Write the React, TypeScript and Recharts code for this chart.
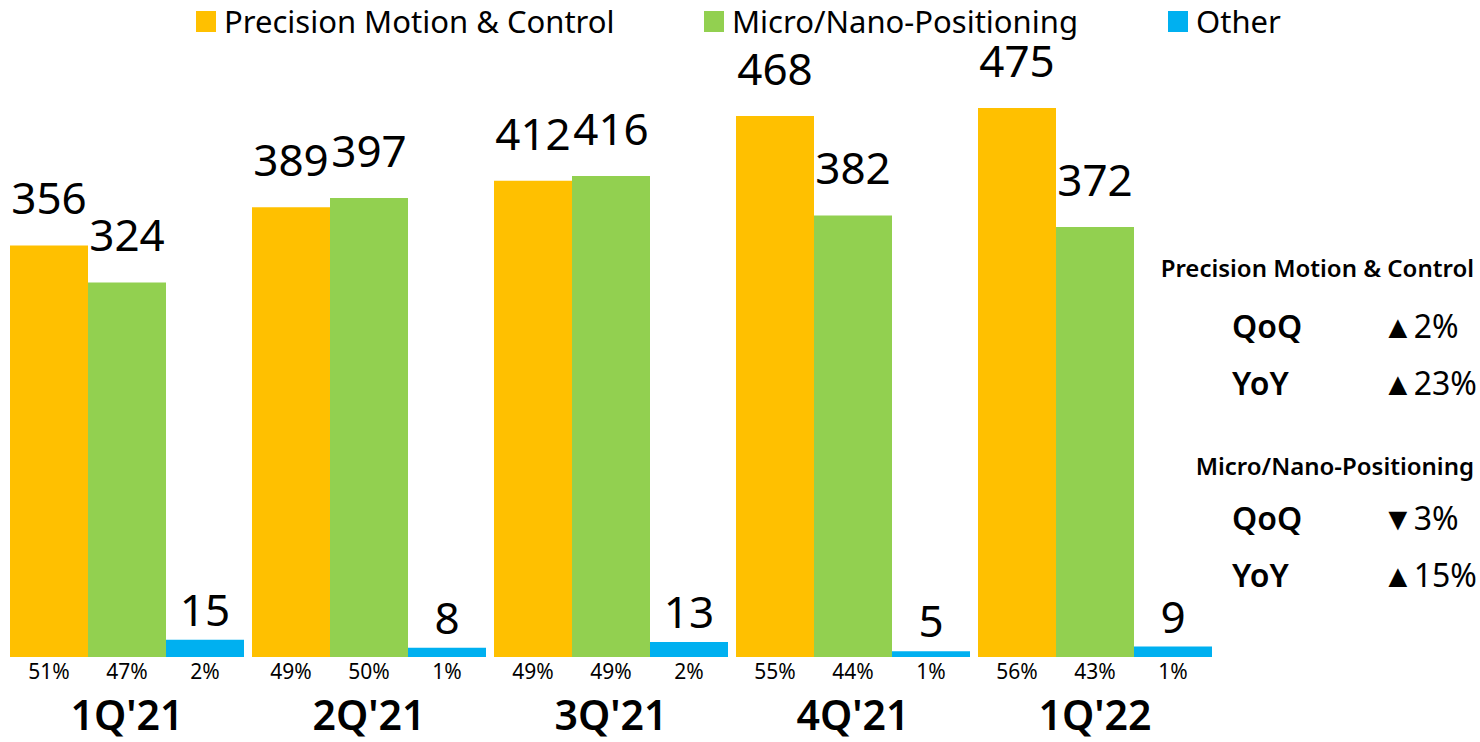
import React from "react";
import { Bar, BarChart, LabelList, Legend, XAxis, YAxis } from "recharts";

const quarters = ["1Q'21", "2Q'21", "3Q'21", "4Q'21", "1Q'22"];
const pmcValues = [356, 389, 412, 468, 475];
const mnpValues = [324, 397, 416, 382, 372];
const otherValues = [15, 8, 13, 5, 9];
const pmcShare = [51, 49, 49, 55, 56];
const mnpShare = [47, 50, 49, 44, 43];
const otherShare = [2, 1, 2, 1, 1];

const series = [
  { key: "pmc", share: "pmcShare", name: "Precision Motion & Control", color: "#FFC000" },
  { key: "mnp", share: "mnpShare", name: "Micro/Nano-Positioning", color: "#92D050" },
  { key: "other", share: "otherShare", name: "Other", color: "#00B0F0" },
];

const data = quarters.map((q, i) => ({
  quarter: q,
  pmc: pmcValues[i],
  mnp: mnpValues[i],
  other: otherValues[i],
  pmcShare: pmcShare[i],
  mnpShare: mnpShare[i],
  otherShare: otherShare[i],
}));

const FONT = "'Noto Sans', sans-serif";

const ShareLabel = (props: any) => {
  const { x, y, width, height, value } = props;
  return (
    <text
      x={x + width / 2}
      y={y + height + 22}
      textAnchor="middle"
      fontSize={21}
      fontFamily={FONT}
      fill="#000"
    >
      {value}%
    </text>
  );
};

const QuarterTick = (props: any) => {
  const { x, y, payload } = props;
  return (
    <text
      x={x}
      y={y + 73}
      textAnchor="middle"
      fontSize={41}
      fontWeight={600}
      fontFamily={FONT}
      fill="#000"
    >
      {payload.value}
    </text>
  );
};

const legendLeft = [196, 704, 1168];

const LegendContent = () => (
  <div style={{ position: "relative", height: 40, fontFamily: FONT }}>
    {series.map((s, i) => (
      <div
        key={s.key}
        style={{
          position: "absolute",
          left: legendLeft[i],
          top: 0,
          display: "flex",
          alignItems: "center",
          height: 42,
        }}
      >
        <span
          style={{
            display: "inline-block",
            width: 20,
            height: 21,
            background: s.color,
            marginRight: 8,
          }}
        />
        <span style={{ fontSize: 31, color: "#000", whiteSpace: "nowrap" }}>
          {s.name}
        </span>
      </div>
    ))}
  </div>
);

const growth = [
  { title: "Precision Motion & Control", titleY: 277, rows: [["QoQ", "▲2%", 338], ["YoY", "▲23%", 395]] },
  { title: "Micro/Nano-Positioning", titleY: 475, rows: [["QoQ", "▼3%", 530], ["YoY", "▲15%", 587]] },
];

export default function App() {
  return (
    <div style={{ position: "absolute", left: 0, top: 0, width: 1480, height: 742 }}>
      <BarChart
        width={1480}
        height={742}
        data={data}
        margin={{ top: 39, right: 264, bottom: 0, left: 6 }}
        barCategoryGap={4}
        barGap={0}
      >
        <Legend
          verticalAlign="top"
          content={<LegendContent />}
          wrapperStyle={{ top: 0, left: 0, width: 1480 }}
        />
        <XAxis
          dataKey="quarter"
          height={85}
          axisLine={false}
          tickLine={false}
          tickSize={0}
          tickMargin={0}
          tick={<QuarterTick />}
          interval={0}
        />
        <YAxis hide domain={[0, 500]} />
        {series.map((s) => (
          <Bar key={s.key} dataKey={s.key} name={s.name} fill={s.color} isAnimationActive={false}>
            <LabelList
              dataKey={s.key}
              position="top"
              offset={s.key === "other" ? 14 : 31}
              fontSize={44}
              fontFamily={FONT}
              fill="#000"
            />
            <LabelList dataKey={s.share} content={<ShareLabel />} />
          </Bar>
        ))}
      </BarChart>
      <svg
        width={1480}
        height={742}
        style={{ position: "absolute", left: 0, top: 0, pointerEvents: "none" }}
        fontFamily={FONT}
      >
        {growth.map((g) => (
          <g key={g.title}>
            <text x={1474} y={g.titleY} textAnchor="end" fontSize={24} fontWeight={600}>
              {g.title}
            </text>
            {g.rows.map((r) => (
              <g key={r[0] as string}>
                <text x={1232} y={r[2] as number} fontSize={32} fontWeight={600}>
                  {r[0]}
                </text>
                <text x={1382} y={r[2] as number} fontSize={32}>
                  {r[1]}
                </text>
              </g>
            ))}
          </g>
        ))}
      </svg>
    </div>
  );
}
